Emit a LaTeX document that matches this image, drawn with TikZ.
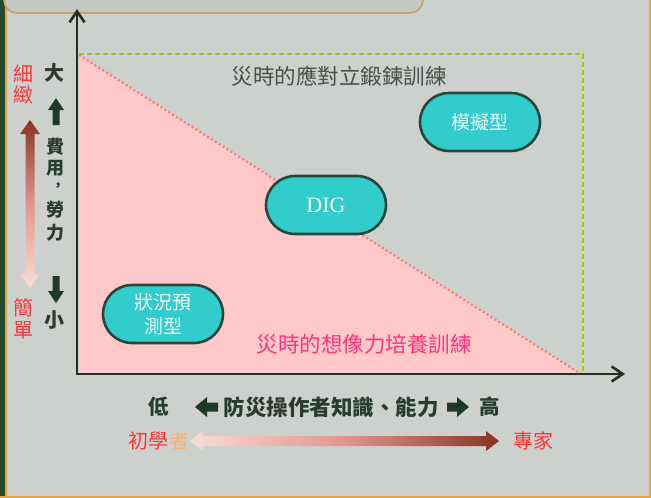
\documentclass[tikz,border=0pt]{standalone}
\usepackage{fontspec}
\setmainfont{Noto Sans CJK TC}
\newfontfamily\digfont{Liberation Serif}
\usetikzlibrary{arrows.meta,shapes.misc}
\definecolor{bg}{HTML}{CDD1CD}
\definecolor{edgegreen}{HTML}{244A30}
\definecolor{edgeorange}{HTML}{E3A548}
\definecolor{boxfill}{HTML}{C4C9C4}
\definecolor{boxborder}{HTML}{C9A262}
\definecolor{axiscol}{HTML}{1E3226}
\definecolor{dashgreen}{HTML}{A6CC00}
\definecolor{pinkfill}{HTML}{FFC9C9}
\definecolor{pinkdot}{HTML}{FF7F7F}
\definecolor{teal}{HTML}{33CCCC}
\definecolor{tealborder}{HTML}{28463A}
\definecolor{tealtext}{HTML}{E8FAFA}
\definecolor{darktext}{HTML}{2A3C32}
\definecolor{graytext}{HTML}{44524A}
\definecolor{redtext}{HTML}{FF3535}
\definecolor{pinktext}{HTML}{FF3380}
\definecolor{tantext}{HTML}{F2B27A}
\definecolor{arrowdark}{HTML}{1D3A26}
\definecolor{graddark}{HTML}{8A3322}
\definecolor{gradmid}{HTML}{E2958C}
\definecolor{gradlight}{HTML}{F8DCD6}
\tikzset{
  stadium/.style={rounded rectangle, draw=tealborder, line width=2.6pt, fill=teal,
    text=tealtext, minimum width=120pt, minimum height=58pt, inner sep=0pt,
    align=center, font=\fontsize{19}{26}\selectfont},
  axisline/.style={draw=axiscol, line width=2.6pt, -{Straight Barb[length=11pt,width=15pt]}},
  darklbl/.style={text=darktext, font=\fontsize{20.5}{20.5}\selectfont\bfseries, inner sep=0pt},
  vlbl/.style={text=darktext, font=\fontsize{18}{18}\selectfont\bfseries, inner sep=0pt},
  redlbl/.style={text=redtext, font=\fontsize{20}{20}\selectfont, inner sep=0pt},
}
\begin{document}
\begin{tikzpicture}[x=1pt,y=-1pt]
\useasboundingbox (0,0) rectangle (651,498);
% background and frame
\fill[bg] (0,0) rectangle (651,498);
\fill[edgegreen] (0,0) rectangle (5,498);
\fill[edgeorange] (5,0) rectangle (7,498);
\fill[edgeorange] (648.5,0) rectangle (651,498);
\fill[edgeorange] (0,496) rectangle (651,498);
% top box
\draw[boxborder, fill=boxfill, line width=1.6pt, rounded corners=13pt] (4,-30) rectangle (423,13);
% triangle region
\fill[pinkfill] (79,55) -- (79,374) -- (581,374) -- cycle;
\draw[pinkdot, line width=2.2pt, dash pattern=on 2.2pt off 2.4pt] (79,55) -- (581,374);
% dashed frame
\draw[dashgreen, line width=1.3pt, dash pattern=on 5pt off 3pt] (79,54) -- (583,54) -- (583,374);
% axes
\coordinate (O) at (77,374);
\coordinate (ytip) at (77,9);
\coordinate (xtip) at (625,374);
\draw[axisline] ([yshift=1.3pt]O) -- (ytip);
\draw[axisline] ([xshift=-1.3pt]O) -- (xtip);
% region labels
\node[text=graytext, font=\fontsize{21.5}{21.5}\selectfont, inner sep=0pt] (lbltop) at (339,76) {災時的應對立鍛鍊訓練};
\node[text=pinktext, font=\fontsize{21.5}{21.5}\selectfont, inner sep=0pt] (lblbot) at (364,344) {災時的想像力培養訓練};
% training types
\node[stadium] (sim) at (480,122) {模擬型};
\node[stadium, font=\digfont\fontsize{22}{22}\selectfont] (dig) at (326,205) {DIG};
\node[stadium] (pred) at (163,314) {狀況預\\[-2pt]測型};
% left vertical labels
\node[redlbl] (xi) at (23,74) {細};
\node[redlbl] (zhi) at (23,95) {緻};
\node[redlbl] (jian) at (23,308) {簡};
\node[redlbl] (dan) at (23,330) {單};
\shade[top color=graddark, bottom color=gradlight, middle color=gradmid]
  (30,120) -- (40,134) -- (34.5,134) -- (34.5,274) -- (40,274) -- (30,288) -- (20,274) -- (25.5,274) -- (25.5,134) -- (20,134) -- cycle;
\node[vlbl, font=\fontsize{20}{20}\selectfont\bfseries] (da) at (55,73) {大};
\fill[arrowdark] (56,98) -- (64,110) -- (59.5,110) -- (59.5,125) -- (52.5,125) -- (52.5,110) -- (48,110) -- cycle;
\node[vlbl] (fei) at (55,147) {費};
\node[vlbl] (yong) at (55,168) {用};
\node[vlbl, font=\fontsize{14}{14}\selectfont\bfseries] (comma) at (58,187) {，};
\node[vlbl] (lao) at (55,210) {勞};
\node[vlbl] (li) at (55,233) {力};
\fill[arrowdark] (56,303) -- (64,291) -- (59.5,291) -- (59.5,276) -- (52.5,276) -- (52.5,291) -- (48,291) -- cycle;
\node[vlbl, font=\fontsize{20}{20}\selectfont\bfseries] (xiao) at (55,320) {小};
% bottom labels
\node[darklbl] (di) at (159,407) {低};
\fill[arrowdark] (195,407) -- (207,397) -- (207,402.5) -- (218,402.5) -- (218,411.5) -- (207,411.5) -- (207,417) -- cycle;
\node[darklbl, font=\fontsize{21.5}{21.5}\selectfont\bfseries] (ability) at (331,407) {防災操作者知識、能力};
\fill[arrowdark] (469,407) -- (457,397) -- (457,402.5) -- (447,402.5) -- (447,411.5) -- (457,411.5) -- (457,417) -- cycle;
\node[darklbl] (gao) at (490,407) {高};
\node[redlbl, anchor=east] (chuxue) at (169,441) {初學};
\node[text=tantext, font=\fontsize{20}{20}\selectfont, inner sep=0pt, anchor=west] (zhe) at (169,441) {者};
\shade[left color=gradlight, right color=graddark, middle color=gradmid]
  (190,441) -- (203,431) -- (203,436) -- (486,436) -- (486,431) -- (499,441) -- (486,451) -- (486,446) -- (203,446) -- (203,451) -- cycle;
\node[redlbl] (expert) at (533,441) {專家};
\end{tikzpicture}
\end{document}
